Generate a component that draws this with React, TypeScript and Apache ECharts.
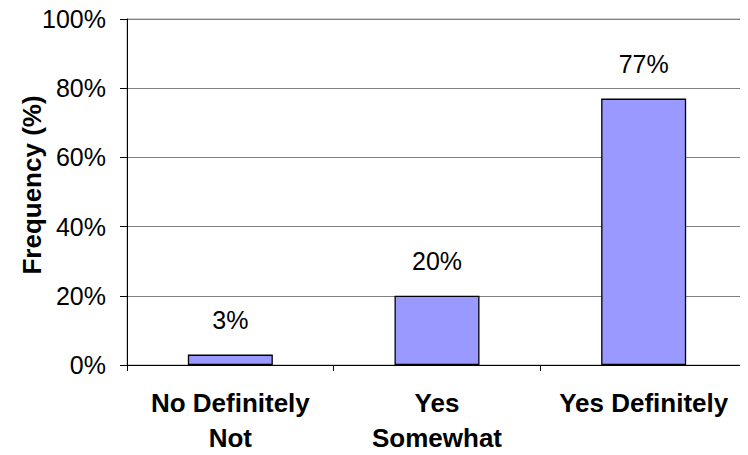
import React, { useEffect, useRef } from "react";
import * as echarts from "echarts";

const categories = ["No Definitely\nNot", "Yes\nSomewhat", "Yes Definitely"];
const frequencies = [3, 20, 77];
const yTicks = [0, 20, 40, 60, 80, 100];

export default function App() {
  const ref = useRef<HTMLDivElement>(null);
  useEffect(() => {
    if (!ref.current) return;
    const chart = echarts.init(ref.current, null, { renderer: "svg" });
    const font = "Liberation Sans, Arial, sans-serif";
    chart.setOption({
      animation: false,
      backgroundColor: "#ffffff",
      grid: {
        left: 127,
        top: 19,
        width: 620,
        height: 348,
        show: true,
        borderColor: "#a0a0a0",
        borderWidth: 1,
      },
      graphic: [
        {
          type: "text",
          x: 32,
          y: 185,
          rotation: Math.PI / 2,
          style: {
            text: "Frequency (%)",
            fontFamily: font,
            fontWeight: "bold",
            fontSize: 26,
            fill: "#000",
            align: "center",
            verticalAlign: "middle",
          },
        },
      ],
      xAxis: {
        type: "category",
        data: categories,
        axisLine: { lineStyle: { color: "#000", width: 1 } },
        axisTick: { show: true, length: 6, lineStyle: { color: "#000" } },
        axisLabel: {
          interval: 0,
          margin: 20,
          fontFamily: font,
          fontWeight: "bold",
          fontSize: 26,
          lineHeight: 35,
          color: "#000",
        },
      },
      yAxis: {
        type: "value",
        min: 0,
        max: 100,
        interval: 20,
        axisLine: { show: true, lineStyle: { color: "#000", width: 1 } },
        axisTick: { show: true, length: 7, lineStyle: { color: "#000" } },
        axisLabel: {
          margin: 21,
          fontFamily: font,
          fontSize: 25,
          color: "#000",
          formatter: (v: number) => (yTicks.includes(v) ? v + "%" : ""),
        },
        splitLine: { show: true, lineStyle: { color: "#808080", width: 1 } },
      },
      series: [
        {
          type: "bar",
          data: frequencies,
          barWidth: 85,
          itemStyle: { color: "#9999ff", borderColor: "#000", borderWidth: 1.3 },
          label: {
            show: true,
            position: "top",
            distance: 22,
            fontFamily: font,
            fontSize: 25,
            color: "#000",
            formatter: (p: any) => p.value + "%",
          },
        },
      ],
    });
    return () => chart.dispose();
  }, []);
  return <div ref={ref} style={{ width: 748, height: 455, margin: -8 }} />;
}
